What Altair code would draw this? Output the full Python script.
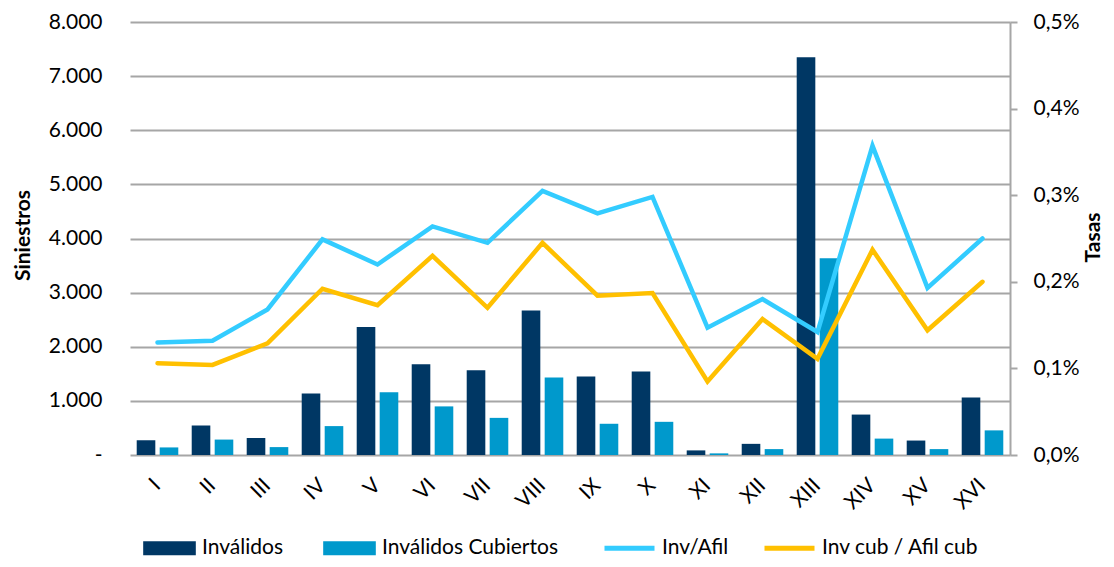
import altair as alt
import pandas as pd

categories = ["I", "II", "III", "IV", "V", "VI", "VII", "VIII", "IX", "X",
              "XI", "XII", "XIII", "XIV", "XV", "XVI"]
invalidos = [273, 546, 316, 1135, 2367, 1675, 1566, 2671, 1451, 1542,
             85, 206, 7351, 747, 267, 1062]
invalidos_cubiertos = [140, 285, 146, 534, 1159, 898, 686, 1432, 577, 613,
                       30, 109, 3636, 303, 109, 455]
inv_afil = [0.130, 0.132, 0.168, 0.249, 0.220, 0.264, 0.245, 0.305, 0.279, 0.298,
            0.147, 0.180, 0.142, 0.357, 0.193, 0.250]
inv_cub_afil_cub = [0.106, 0.104, 0.129, 0.192, 0.173, 0.230, 0.170, 0.245, 0.184, 0.187,
                    0.085, 0.157, 0.111, 0.237, 0.144, 0.200]

bar_series = ["Inválidos", "Inválidos Cubiertos"]
line_series = ["Inv/Afil", "Inv cub / Afil cub"]

bars_df = pd.DataFrame({
    "cat": categories * 2,
    "serie": [bar_series[0]] * 16 + [bar_series[1]] * 16,
    "valor": invalidos + invalidos_cubiertos,
})
lines_df = pd.DataFrame({
    "cat": categories * 2,
    "serie": [line_series[0]] * 16 + [line_series[1]] * 16,
    "tasa": inv_afil + inv_cub_afil_cub,
})

FONT = "Lato"
FS = 21
GRID = "#A6A6A6"

x_scale = alt.Scale(paddingInner=0.244, paddingOuter=0.122)
x_axis = alt.Axis(title=None, labelAngle=315, labelAlign="right", labelBaseline="middle",
                  labelPadding=27, domain=False, ticks=False, grid=False,
                  labelOverlap=False, labelFont=FONT, labelFontSize=FS, labelColor="#000000")

bars = alt.Chart(bars_df).mark_bar().encode(
    x=alt.X("cat:N", sort=categories, scale=x_scale, axis=x_axis),
    xOffset=alt.XOffset("serie:N", sort=bar_series,
                        scale=alt.Scale(paddingInner=0.19, paddingOuter=0)),
    y=alt.Y("valor:Q", scale=alt.Scale(domain=[0, 8000], nice=False),
            axis=alt.Axis(values=list(range(0, 8001, 1000)),
                          labelExpr="datum.value == 0 ? '-' : replace(format(datum.value, ','), ',', '.')",
                          grid=True, gridColor=GRID, gridWidth=2, domain=False, ticks=False,
                          labelPadding=28, labelFont=FONT, labelFontSize=FS, labelColor="#000000",
                          title="Siniestros", titleFont=FONT, titleFontSize=FS,
                          titleFontWeight="bold", titleColor="#000000", titleAngle=270,
                          titleBaseline="middle", titleAlign="center",
                          titleX=-107, titleY=213)),
    fill=alt.Fill("serie:N", sort=bar_series,
                  scale=alt.Scale(domain=bar_series, range=["#003764", "#0099CC"]),
                  legend=alt.Legend(title=None, orient="none", direction="horizontal",
                                    legendX=12, legendY=498.5, padding=0,
                                    symbolType="M-1,-0.27H1V0.27H-1Z", symbolSize=2770,
                                    labelFont=FONT, labelFontSize=FS, labelColor="#000000",
                                    labelOffset=5, labelLimit=400, columnPadding=38)),
)

lines = alt.Chart(lines_df).mark_line(strokeWidth=4.5, strokeCap="round").encode(
    x=alt.X("cat:N", sort=categories, scale=x_scale, axis=x_axis),
    y=alt.Y("tasa:Q", scale=alt.Scale(domain=[0, 0.5], nice=False),
            axis=alt.Axis(orient="right", values=[0, 0.1, 0.2, 0.3, 0.4, 0.5],
                          labelExpr="replace(format(datum.value, '.1f'), '.', ',') + '%'",
                          grid=False, domain=True, domainColor=GRID, domainWidth=2,
                          ticks=True, tickColor=GRID, tickWidth=2, tickSize=7,
                          labelPadding=16, labelFont=FONT, labelFontSize=FS, labelColor="#000000",
                          title="Tasas", titleFont=FONT, titleFontSize=FS,
                          titleFontWeight="bold", titleColor="#000000", titleAngle=270,
                          titleBaseline="middle", titleAlign="center",
                          titleX=83, titleY=215)),
    stroke=alt.Stroke("serie:N", sort=line_series,
                      scale=alt.Scale(domain=line_series, range=["#33CCFF", "#FFC000"]),
                      legend=alt.Legend(title=None, orient="none", direction="horizontal",
                                        legendX=472, legendY=498.5, padding=0,
                                        symbolType="stroke", symbolSize=2500,
                                        symbolStrokeWidth=5,
                                        labelFont=FONT, labelFontSize=FS, labelColor="#000000",
                                        labelOffset=5, labelLimit=400, columnPadding=25)),
)

chart = alt.layer(bars, lines).resolve_scale(
    y="independent", fill="independent", stroke="independent"
).properties(
    width=880, height=433,
    autosize=alt.AutoSizeParams(type="none"),
    padding={"left": 122, "top": 14, "right": 96, "bottom": 104},
    background="#FFFFFF",
).configure_view(stroke=None)

chart.save("out.html", embed_options={"renderer": "svg", "actions": False})
